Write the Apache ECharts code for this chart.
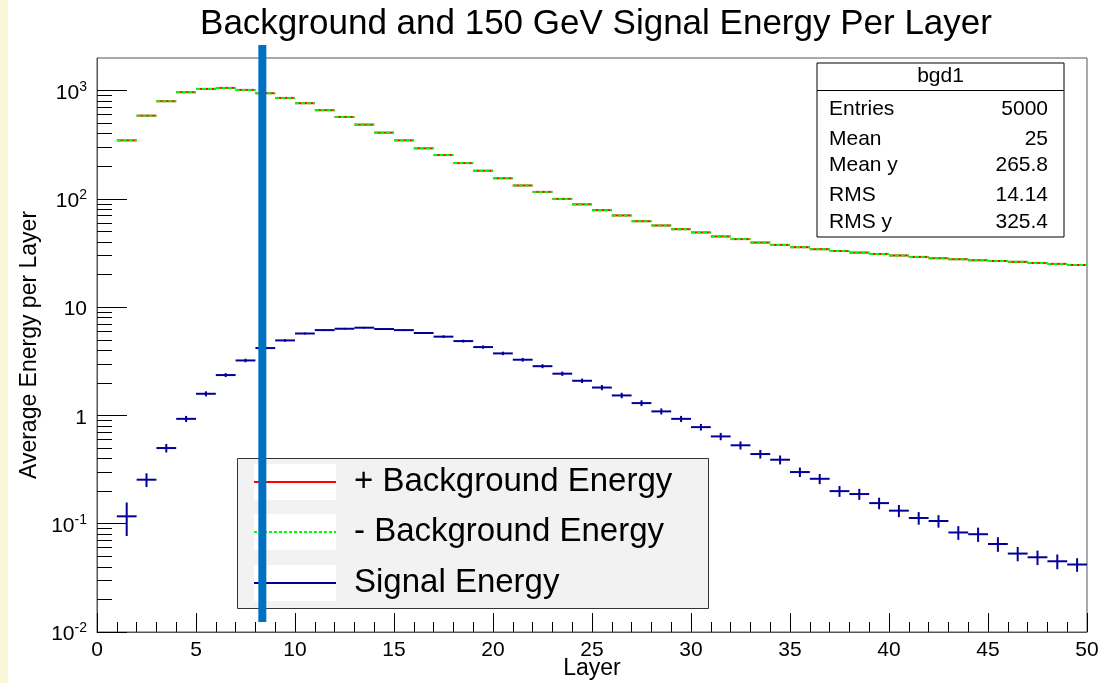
<!DOCTYPE html>
<html>
<head>
<meta charset="utf-8">
<script src="https://cdn.jsdelivr.net/npm/echarts@6/dist/echarts.min.js"></script>
<style>
html, body { margin: 0; padding: 0; background: #fff; }
#main { width: 1107px; height: 683px; }
</style>
</head>
<body>
<div id="main"></div>
<script>
// lower edge of each layer bin (bin width 1)
var binLow = [1, 2, 3, 4, 5, 6, 7, 8, 9, 10, 11, 12, 13, 14, 15, 16, 17, 18, 19, 20,
  21, 22, 23, 24, 25, 26, 27, 28, 29, 30, 31, 32, 33, 34, 35, 36, 37, 38, 39, 40,
  41, 42, 43, 44, 45, 46, 47, 48, 49];

var bgdPlus = [347, 587, 798, 966, 1037, 1059, 1015, 946, 856, 765,
  659, 571, 485, 409, 347, 293, 254, 214, 182, 155,
  133, 116, 100, 89, 78.7, 70.3, 62.2, 56.8, 52.5, 49,
  45, 42.5, 39.5, 37.6, 35.8, 34.3, 33, 31.9, 31, 30,
  29.1, 28.3, 27.7, 27.1, 26.7, 26.2, 25.6, 25.1, 24.5];

var bgdMinus = [347, 587, 798, 966, 1037, 1059, 1015, 946, 856, 765,
  659, 571, 485, 409, 347, 293, 254, 214, 182, 155,
  133, 116, 100, 89, 78.7, 70.3, 62.2, 56.8, 52.5, 49,
  45, 42.5, 39.5, 37.6, 35.8, 34.3, 33, 31.9, 31, 30,
  29.1, 28.3, 27.7, 27.1, 26.7, 26.2, 25.6, 25.1, 24.5];

var signal = [0.117, 0.255, 0.50, 0.93, 1.585, 2.36, 3.22, 4.19, 4.93, 5.71,
  6.14, 6.32, 6.46, 6.28, 6.14, 5.77, 5.34, 4.86, 4.28, 3.74,
  3.27, 2.85, 2.43, 2.09, 1.81, 1.53, 1.30, 1.09, 0.93, 0.78,
  0.64, 0.53, 0.44, 0.39, 0.30, 0.26, 0.20, 0.188, 0.155, 0.132,
  0.113, 0.106, 0.083, 0.080, 0.065, 0.053, 0.049, 0.045, 0.042];

var signalErr = [0.04, 0.037, 0.045, 0.06, 0.085, 0.1, 0.12, 0.13, 0.13, 0.12,
  0.12, 0.12, 0.12, 0.12, 0.12, 0.12, 0.15, 0.15, 0.15, 0.14,
  0.13, 0.12, 0.11, 0.1, 0.1, 0.09, 0.08, 0.07, 0.06, 0.055,
  0.05, 0.045, 0.04, 0.037, 0.03, 0.028, 0.023, 0.022, 0.019, 0.017,
  0.015, 0.014, 0.012, 0.012, 0.01, 0.008, 0.0075, 0.007, 0.006];

var yMajor = [0.01, 0.1, 1, 10, 100, 1000];
var yTickBase = ['10', '10', '1', '10', '10', '10'];
var yTickExp = ['-2', '-1', '', '', '2', '3'];

var legendNames = ['+ Background Energy', '- Background Energy', 'Signal Energy'];
var statTitle = 'bgd1';
var statNames = ['Entries', 'Mean', 'Mean y', 'RMS', 'RMS y'];
var statValues = ['5000', '25', '265.8', '14.14', '325.4'];

var cutLayer = 8.35;

var FONT = 'Liberation Sans, Arial, Helvetica, sans-serif';
var RED = '#ff0000', GREEN = '#00ff00', NAVY = '#000099';

// minor ticks 2..9 per decade
var yMinor = [];
for (var k = 0; k < yMajor.length - 1; k++) {
  for (var m = 2; m <= 9; m++) yMinor.push(+(yMajor[k] * m).toPrecision(3));
}

var bgdPlusData = binLow.map(function (lo, i) { return [lo, lo + 1, bgdPlus[i]]; });
var bgdMinusData = binLow.map(function (lo, i) { return [lo, lo + 1, bgdMinus[i]]; });
var signalData = binLow.map(function (lo, i) { return [lo, lo + 1, signal[i], signalErr[i]]; });

function histItem(color, dash) {
  return function (params, api) {
    var a = api.coord([api.value(0), api.value(2)]);
    var b = api.coord([api.value(1), api.value(2)]);
    return {
      type: 'line',
      shape: { x1: a[0], y1: a[1], x2: b[0], y2: b[1] },
      style: { stroke: color, lineWidth: 2, lineDash: dash }
    };
  };
}

function crossItem(params, api) {
  var lo = api.value(0), hi = api.value(1), v = api.value(2), e = api.value(3);
  var mid = (lo + hi) / 2;
  var l = api.coord([lo, v]), r = api.coord([hi, v]);
  var t = api.coord([mid, v + e]), b = api.coord([mid, v - e]);
  var st = { stroke: NAVY, lineWidth: 2 };
  return {
    type: 'group',
    children: [
      { type: 'line', shape: { x1: l[0], y1: l[1], x2: r[0], y2: r[1] }, style: st },
      { type: 'line', shape: { x1: t[0], y1: t[1], x2: b[0], y2: b[1] }, style: st }
    ]
  };
}

var chart = echarts.init(document.getElementById('main'));

var option = {
  backgroundColor: '#fff',
  animation: false,
  title: {
    text: 'Background and 150 GeV Signal Energy Per Layer',
    left: 591,
    top: 2,
    textAlign: 'center',
    textStyle: { fontFamily: FONT, fontSize: 35, fontWeight: 'normal', color: '#000' }
  },
  grid: {
    left: 97, right: 20, top: 58, bottom: 51,
    show: true, borderColor: '#555', borderWidth: 1,
    outerBoundsMode: 'none'
  },
  xAxis: {
    type: 'value',
    min: 0, max: 50, interval: 5,
    axisLine: { show: true, onZero: false, lineStyle: { color: '#555', width: 1 } },
    axisTick: { show: true, inside: true, length: 19, lineStyle: { color: '#000' } },
    minorTick: { show: true, splitNumber: 5, length: 10, lineStyle: { color: '#000' } },
    splitLine: { show: false },
    axisLabel: { fontFamily: FONT, fontSize: 21, color: '#000', margin: 8 },
    name: 'Layer',
    nameLocation: 'middle',
    nameGap: 25,
    nameMoveOverlap: false,
    nameTextStyle: { fontFamily: FONT, fontSize: 23, color: '#000' }
  },
  yAxis: [{
    type: 'log',
    logBase: 10,
    min: 0.01, max: 2000,
    axisLine: { show: true, lineStyle: { color: '#555', width: 1 } },
    axisTick: { show: true, inside: true, length: 30, customValues: yMajor, lineStyle: { color: '#000' } },
    splitLine: { show: false },
    axisLabel: {
      customValues: yMajor,
      margin: 10,
      padding: [5, 0, 0, 0],
      formatter: function (v) {
        var idx = 0, best = Infinity;
        for (var i = 0; i < yMajor.length; i++) {
          var d = Math.abs(Math.log10(v) - Math.log10(yMajor[i]));
          if (d < best) { best = d; idx = i; }
        }
        var s = '{b|' + yTickBase[idx] + '}';
        if (yTickExp[idx]) s += '{s|' + yTickExp[idx] + '}';
        return s;
      },
      rich: {
        b: { fontFamily: FONT, fontSize: 21, color: '#000', lineHeight: 26 },
        s: { fontFamily: FONT, fontSize: 14, color: '#000', lineHeight: 14, verticalAlign: 'top' }
      }
    },
    name: 'Average Energy per Layer',
    nameLocation: 'middle',
    nameGap: 56,
    nameMoveOverlap: false,
    nameTextStyle: { fontFamily: FONT, fontSize: 23, color: '#000' }
  }, {
    type: 'log',
    logBase: 10,
    min: 0.01, max: 2000,
    position: 'left',
    axisLine: { show: false },
    axisLabel: { show: false },
    splitLine: { show: false },
    axisTick: { show: true, inside: true, length: 15, customValues: yMinor, lineStyle: { color: '#000' } }
  }],
  series: [{
    name: legendNames[0],
    type: 'custom',
    renderItem: histItem(RED, null),
    encode: { x: [0, 1], y: 2 },
    data: bgdPlusData,
    z: 2
  }, {
    name: legendNames[1],
    type: 'custom',
    renderItem: histItem(GREEN, [4, 2]),
    encode: { x: [0, 1], y: 2 },
    data: bgdMinusData,
    z: 3
  }, {
    name: legendNames[2],
    type: 'custom',
    renderItem: crossItem,
    encode: { x: [0, 1], y: 2 },
    data: signalData,
    z: 4
  }]
};

chart.setOption(option);

// stats box, legend box and the cut line as overlay graphics
var g = [];
g.push({ type: 'rect', shape: { x: 0, y: 0, width: 8, height: 683 }, style: { fill: '#f8f8d8' }, z: 1 });

// stats box
g.push({ type: 'rect', shape: { x: 817, y: 63, width: 247, height: 174 }, style: { fill: '#fff', stroke: '#000', lineWidth: 1 }, z: 50 });
g.push({ type: 'line', shape: { x1: 817, y1: 90.5, x2: 1064, y2: 90.5 }, style: { stroke: '#000', lineWidth: 1 }, z: 51 });
g.push({ type: 'text', x: 940.5, y: 76, style: { text: statTitle, font: '21px ' + FONT, fill: '#000', align: 'center', verticalAlign: 'middle' }, z: 51 });
var statY = [109, 139, 165, 195, 222];
statNames.forEach(function (n, i) {
  g.push({ type: 'text', x: 829, y: statY[i], style: { text: n, font: '21px ' + FONT, fill: '#000', align: 'left', verticalAlign: 'middle' }, z: 51 });
  g.push({ type: 'text', x: 1048, y: statY[i], style: { text: statValues[i], font: '21px ' + FONT, fill: '#000', align: 'right', verticalAlign: 'middle' }, z: 51 });
});

// legend
g.push({ type: 'rect', shape: { x: 237.5, y: 458.5, width: 471, height: 150 }, style: { fill: '#f2f2f2', stroke: '#333', lineWidth: 1 }, z: 50 });
var legRow = [482, 532, 583];
var legStyle = [
  { stroke: RED, lineWidth: 2 },
  { stroke: GREEN, lineWidth: 2, lineDash: [3, 2] },
  { stroke: NAVY, lineWidth: 2 }
];
legendNames.forEach(function (n, i) {
  g.push({ type: 'rect', shape: { x: 254, y: legRow[i] - 18, width: 82, height: 36 }, style: { fill: '#fff' }, z: 51 });
  g.push({ type: 'line', shape: { x1: 254, y1: legRow[i], x2: 336, y2: legRow[i] }, style: legStyle[i], z: 52 });
  g.push({ type: 'text', x: 354, y: legRow[i], style: { text: n, font: '33px ' + FONT, fill: '#000', align: 'left', verticalAlign: 'middle' }, z: 52 });
});

// cut line
var cx = chart.convertToPixel({ xAxisIndex: 0 }, cutLayer);
g.push({ type: 'rect', shape: { x: cx - 4, y: 45, width: 8, height: 577 }, style: { fill: '#0070c0' }, z: 60 });

chart.setOption({ graphic: g });
</script>
</body>
</html>
